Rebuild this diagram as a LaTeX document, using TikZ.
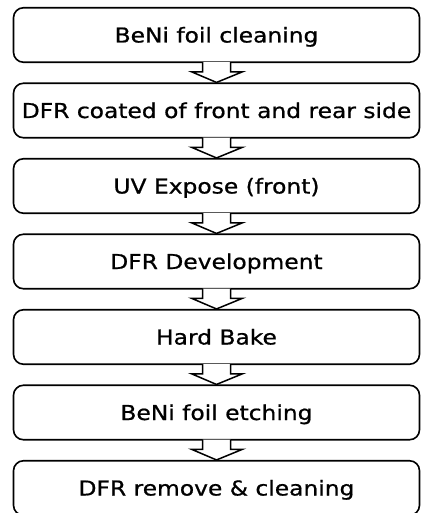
\documentclass[tikz,border=0pt]{standalone}
\usepackage{fontspec}
\setmainfont{DejaVu Sans}[FakeStretch=1.14, FakeBold=0.8]
\usetikzlibrary{calc}
\tikzset{
  stepbox/.style={draw=black, line width=1.6pt, rounded corners=10pt,
    minimum width=406pt, minimum height=54.5pt, inner sep=0pt,
    text height=15pt, text depth=0pt, align=center,
    font=\fontsize{20.5}{24}\selectfont},
  hollowarrow/.style={draw=black, fill=white, line width=1.5pt, line join=miter},
}
\newcommand{\flowarrow}[2]{%
  \draw[hollowarrow] let \p1=(#1.south), \p2=(#2.north), \n1={\y1-\y2} in
    ({\x1-14pt},{\y1+1pt}) -- ({\x1-14pt},{\y1-0.45*\n1}) -- ({\x1-25pt},{\y1-0.45*\n1})
    -- (\x2,\y2) -- ({\x1+26pt},{\y1-0.45*\n1}) -- ({\x1+14pt},{\y1-0.45*\n1})
    -- ({\x1+14pt},{\y1+1pt});}
\begin{document}
\begin{tikzpicture}[x=1pt,y=-1pt]
\useasboundingbox (0,0) rectangle (421,513);
\clip (0,0) rectangle (421,513);
\node[stepbox] (s1) at (216.5,35)    {BeNi foil cleaning};
\node[stepbox] (s2) at (216.5,110.5) {DFR coated of front and rear side};
\node[stepbox] (s3) at (216.5,186)   {UV Expose (front)};
\node[stepbox] (s4) at (216.5,261.5) {DFR Development};
\node[stepbox] (s5) at (216.5,337)   {Hard Bake};
\node[stepbox] (s6) at (216.5,412.5) {BeNi foil etching};
\node[stepbox] (s7) at (216.5,488)   {DFR remove \& cleaning};
\flowarrow{s1}{s2}
\flowarrow{s2}{s3}
\flowarrow{s3}{s4}
\flowarrow{s4}{s5}
\flowarrow{s5}{s6}
\flowarrow{s6}{s7}
\end{tikzpicture}
\end{document}
